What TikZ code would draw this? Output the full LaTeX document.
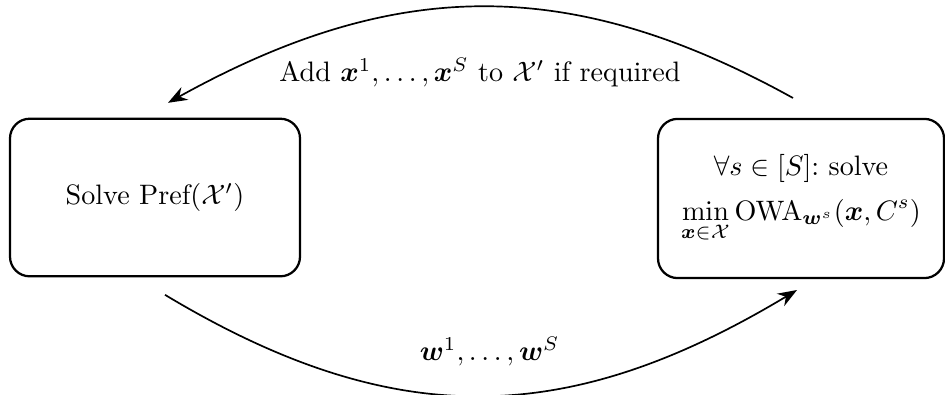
\documentclass[tikz,border=0pt]{standalone}
\usepackage{amsmath,bm}
\usetikzlibrary{arrows.meta,positioning,calc}

\begin{document}
\begin{tikzpicture}[
  box/.style={rectangle, rounded corners=7pt, draw=black, thick,
              minimum width=3.6cm, minimum height=1.97cm, align=center},
  ar/.style={-{Stealth[length=2.4mm,width=1.8mm]}, semithick}
]
\useasboundingbox (0,0) rectangle (11.8125,4.925);

\node[box, minimum width=3.625cm] (pref) at (1.9375, 2.456) {Solve Pref$(\mathcal{X}')$};
\node[box, minimum width=3.575cm, minimum height=1.99cm] (owa) at (10.0125, 2.444)
  {$\forall s\in[S]$:\ solve\\[4pt]
   $\displaystyle\min_{\bm{x}\in\mathcal{X}}\mathrm{OWA}_{\bm{w}^s}(\bm{x},C^s)$};

% free ends of the two arcs
\coordinate (topstart) at (9.9125, 3.70);
\coordinate (topend)   at (2.10, 3.64);
\coordinate (botstart) at (2.0625, 1.24);
\coordinate (botend)   at (9.9625, 1.30);

\draw[ar] (topstart) to[out=151, in=29, looseness=1.05] (topend);
\draw[ar] (botstart) to[out=-31, in=-149, looseness=1.08] (botend);

\node (addlbl) at (6.0, 4.02) {Add $\bm{x}^1,\dots,\bm{x}^S$ to $\mathcal{X}'$ if required};
\node (wlbl)   at (6.12, 0.53) {$\bm{w}^1,\dots,\bm{w}^S$};
\end{tikzpicture}
\end{document}
